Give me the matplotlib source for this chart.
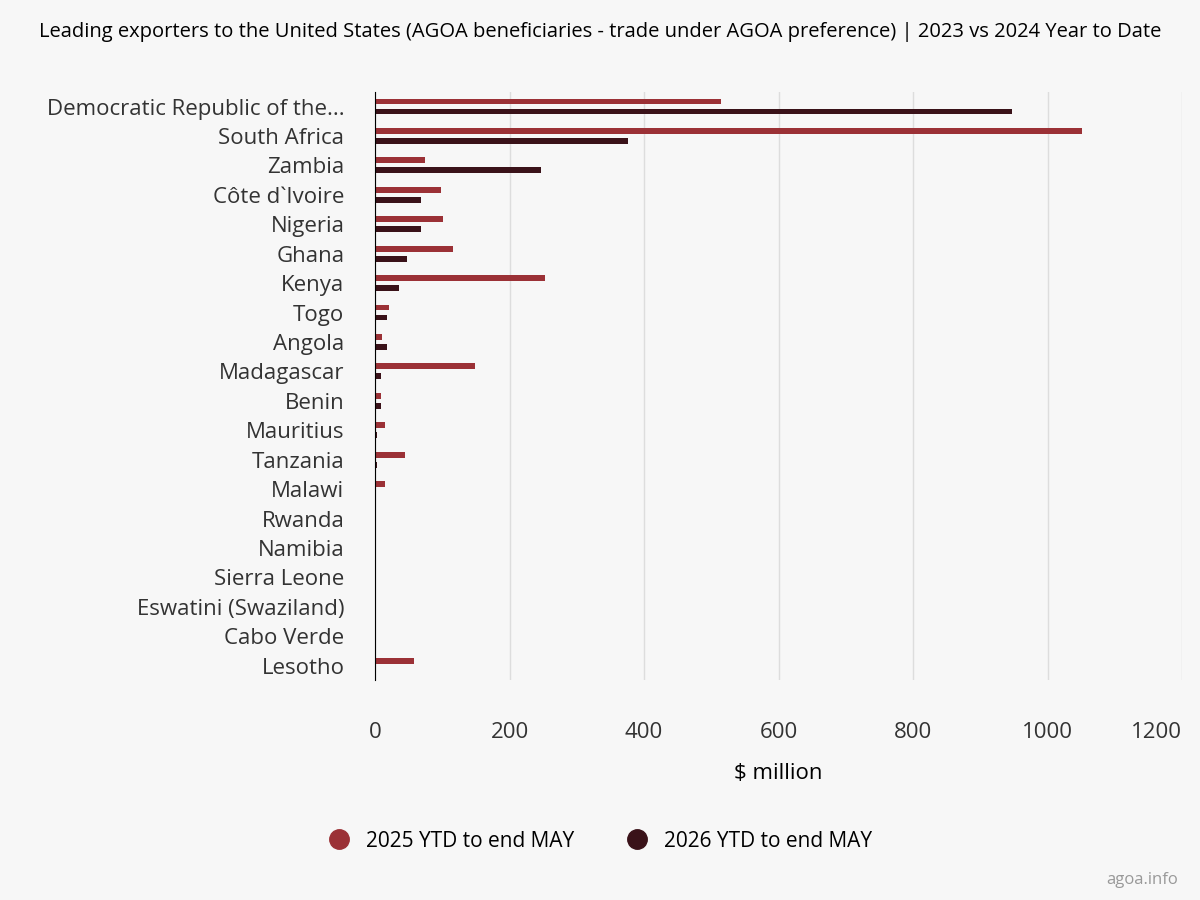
import numpy as np
import matplotlib.pyplot as plt

plt.rcParams['font.family'] = ['Open Sans', 'DejaVu Sans']

countries = ["Democratic Republic of the...", "South Africa", "Zambia", "Côte d`Ivoire",
             "Nigeria", "Ghana", "Kenya", "Togo", "Angola", "Madagascar", "Benin",
             "Mauritius", "Tanzania", "Malawi", "Rwanda", "Namibia", "Sierra Leone",
             "Eswatini (Swaziland)", "Cabo Verde", "Lesotho"]
ytd_2025 = [514, 1051, 74, 98, 101, 116, 253, 21, 10, 149, 9, 15, 45, 15, 0, 0, 0, 0, 0, 58]
ytd_2026 = [947, 376, 247, 68, 68, 48, 36, 18, 18, 9, 9, 3, 3, 0, 0, 0, 0, 0, 0, 0]


def plot_exporters():
    """
    Grouped horizontal bars, one pair per country.
    """
    fig = plt.figure(figsize=(12, 9), facecolor="#f7f7f7")
    ax = fig.add_axes([0.3125, 0.244, 0.6725, 0.654])
    ax.set_facecolor("#f7f7f7")

    y = np.arange(len(countries))
    h = 0.2
    ax.barh(y - 0.17, ytd_2025, height=h, color="#9b3136", label="2025 YTD to end MAY")
    ax.barh(y + 0.17, ytd_2026, height=h, color="#3a1219", label="2026 YTD to end MAY")

    ax.set_yticks(y)
    ax.set_yticklabels(countries, fontsize=16, color="#333333")
    ax.set_ylim(len(countries) - 0.5, -0.5)
    ax.set_xlim(0, 1200)
    ax.set_xticks(range(0, 1201, 200))
    ax.tick_params(axis="x", length=0, pad=30, labelsize=16, labelcolor="#333333")
    ax.tick_params(axis="y", length=0, pad=22)
    ax.xaxis.get_ticklabels()[-1].set_horizontalalignment("right")
    ax.grid(axis="x", color="#dddddd", linewidth=1)
    ax.set_axisbelow(True)
    for s in ["top", "right", "bottom"]:
        ax.spines[s].set_visible(False)
    ax.spines["left"].set_color("black")
    ax.set_xlabel("$ million", fontsize=16, labelpad=14)

    fig.suptitle("Leading exporters to the United States (AGOA beneficiaries - trade under AGOA preference) | 2023 vs 2024 Year to Date",
                 fontsize=14.5, y=0.975)
    fig.legend(loc="center", bbox_to_anchor=(0.5, 0.065), ncol=2, frameon=False,
               fontsize=15, handlelength=1, handleheight=1, columnspacing=2.5,
               handles=[plt.Line2D([], [], marker="o", ls="none", ms=14, color="#9b3136"),
                        plt.Line2D([], [], marker="o", ls="none", ms=14, color="#3a1219")],
               labels=["2025 YTD to end MAY", "2026 YTD to end MAY"])
    fig.text(0.982, 0.018, "agoa.info", ha="right", fontsize=12, color="#999999")

    plt.savefig("out.png", dpi=100, facecolor=fig.get_facecolor())


plot_exporters()
